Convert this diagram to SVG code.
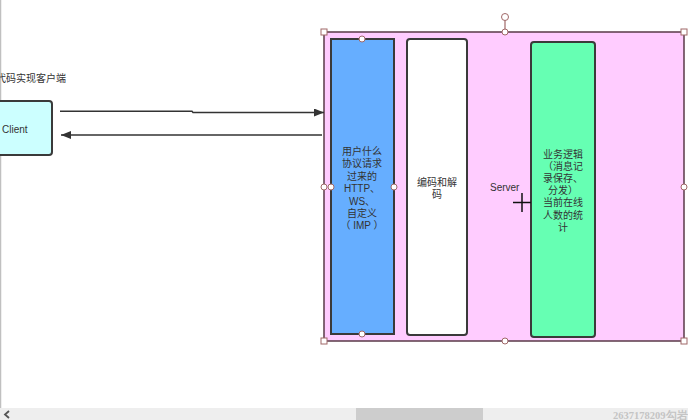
<svg xmlns="http://www.w3.org/2000/svg" width="688" height="420" viewBox="0 0 688 420">
<defs>
<marker id="ah" markerWidth="10" markerHeight="8" refX="10" refY="4" orient="auto" markerUnits="userSpaceOnUse">
<path d="M0,0 L10,4 L0,8 Z" fill="#333"/>
</marker>
<style>
.t{font-family:"Liberation Sans","Noto Sans CJK SC",sans-serif;font-size:10px;fill:#333}
.c{text-anchor:middle}
.box{stroke:#3a3a3a;stroke-width:2}
.hc{fill:#fff;stroke:#a06868;stroke-width:1}
.conn{stroke:#333;stroke-width:1.5;fill:none}
</style>
</defs>
<rect width="688" height="420" fill="#fff"/>
<line x1="0.5" y1="0" x2="0.5" y2="408" stroke="#c0c0c0" stroke-width="1.5"/>

<text class="t" x="-4" y="82">代码实现客户端</text>

<g id="client">
<rect class="box" x="-4" y="101" width="56" height="54" rx="3" fill="#ccffff"/>
<text class="t" x="2" y="133">Client</text>
</g>

<g id="server">
<rect x="324" y="32" width="360" height="309" fill="#ffccff" stroke="#5a3a48" stroke-width="1.5"/>
<text class="t" x="490" y="191">Server</text>
</g>

<g id="protocol">
<rect class="box" x="331" y="39" width="63" height="295" fill="#66aeff"/>
<text class="t c" x="362" y="155">用户什么<tspan x="362" dy="12.4">协议请求</tspan><tspan x="362" dy="12.4">过来的</tspan><tspan x="362" dy="12.4">HTTP、</tspan><tspan x="362" dy="12.4">WS、</tspan><tspan x="362" dy="12.4">自定义</tspan><tspan x="362" dy="12.4">（ IMP ）</tspan></text>
</g>

<g id="codec">
<rect class="box" x="407" y="39" width="60" height="296" rx="3" fill="#fff"/>
<text class="t c" x="437" y="185.5">编码和解<tspan x="437" dy="12.4">码</tspan></text>
</g>

<g id="logic">
<rect class="box" x="531" y="42" width="64" height="295" rx="3" fill="#66ffb3"/>
<text class="t c" x="563" y="158">业务逻辑<tspan x="563" dy="12.1">（消息记</tspan><tspan x="563" dy="12.1">录保存、</tspan><tspan x="563" dy="12.1">分发）</tspan><tspan x="563" dy="12.1">当前在线</tspan><tspan x="563" dy="12.1">人数的统</tspan><tspan x="563" dy="12.1">计</tspan></text>
</g>

<g id="connectors">
<polyline class="conn" points="60,111.3 192,111.3 193,112.5 324,112.5" marker-end="url(#ah)"/>
<line class="conn" x1="322" y1="135" x2="61" y2="135" marker-end="url(#ah)"/>
</g>

<g id="handles">
<line x1="505" y1="20" x2="505" y2="32" stroke="#a06868" stroke-width="1.2"/>
<circle class="hc" cx="505" cy="17" r="3.5"/>
<circle class="hc" cx="505" cy="32" r="3"/>
<circle class="hc" cx="505" cy="341" r="3"/>
<circle class="hc" cx="324" cy="187" r="3"/>
<circle class="hc" cx="684" cy="187" r="3"/>
<rect class="hc" x="321" y="29" width="6" height="6"/>
<rect class="hc" x="321" y="338" width="6" height="6"/>
<rect class="hc" x="681" y="338" width="6" height="6"/>
<rect class="hc" x="681" y="29" width="6" height="6"/>
<circle class="hc" cx="362" cy="39" r="3"/>
<circle class="hc" cx="362" cy="334" r="3"/>
<circle class="hc" cx="331" cy="187" r="3"/>
<circle class="hc" cx="394" cy="187" r="3"/>
</g>

<g id="cursor" stroke="#111" stroke-width="1.5">
<line x1="522" y1="193" x2="522" y2="212"/>
<line x1="513" y1="202.5" x2="531" y2="202.5"/>
</g>

<g id="scrollbar">
<rect x="0" y="408" width="688" height="12" fill="#eeeeee"/>
<rect x="356" y="408" width="127" height="12" fill="#cdcdcd"/>
<path d="M9,411 L5,414.5 L9,418" fill="none" stroke="#555" stroke-width="1.8"/>
<text x="613" y="418.5" font-family="Liberation Serif, serif" font-size="10.5" font-weight="bold" fill="#c4c4c4">2637178209勾岩</text>
</g>
</svg>
